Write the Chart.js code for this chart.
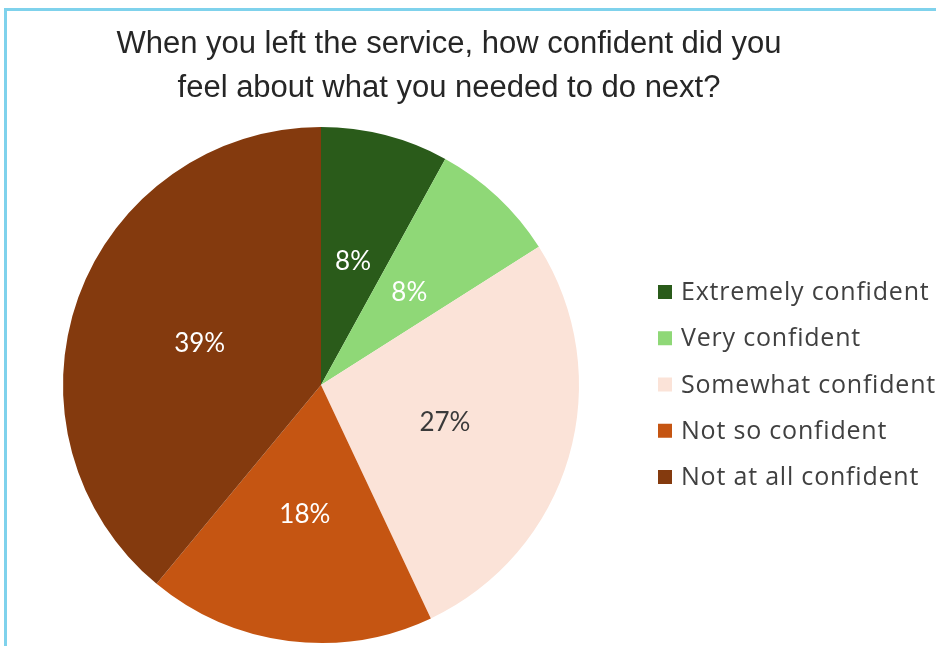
<!DOCTYPE html>
<html>
<head>
<meta charset="utf-8">
<title>Confidence after leaving the service</title>
<script src="https://cdn.jsdelivr.net/npm/chart.js@4"></script>
<style>
  html, body { margin: 0; padding: 0; background: #ffffff; }
  #wrap { position: relative; width: 936px; height: 646px; overflow: hidden; }
  #chart { position: absolute; left: 0; top: 0; }
  #frame {
    position: absolute; left: 4px; top: 8px; right: -10px; bottom: -10px;
    border-top: 3px solid #7fd2ec; border-left: 3px solid #7fd2ec;
    pointer-events: none;
  }
</style>
</head>
<body>
<div id="wrap">
  <canvas id="chart" width="936" height="646"></canvas>
  <div id="frame"></div>
</div>
<script>
// Survey answers, share of respondents (%)
const categories = [
  'Extremely confident',
  'Very confident',
  'Somewhat confident',
  'Not so confident',
  'Not at all confident'
];
const shares = [8, 8, 27, 18, 39];
const sliceColors = ['#2a5b1a', '#8fd877', '#fbe3d8', '#c55512', '#843a0e'];
const labelColors = ['#ffffff', '#ffffff', '#3a3a3a', '#ffffff', '#ffffff'];
const titleLines = [
  'When you left the service, how confident did you',
  'feel about what you needed to do next?'
];

// Two-line heading centred over the whole figure (pie + legend)
const heading = {
  id: 'heading',
  afterDraw(chart, args, opts) {
    const ctx = chart.ctx;
    ctx.save();
    ctx.font = opts.font;
    ctx.fillStyle = opts.color;
    ctx.textAlign = 'center';
    ctx.textBaseline = 'alphabetic';
    opts.lines.forEach((line, i) => {
      ctx.fillText(line, opts.centerX, opts.firstBaseline + i * opts.lineGap);
    });
    ctx.restore();
  }
};

// Percentage text in the middle of each slice
const sliceLabels = {
  id: 'sliceLabels',
  afterDatasetsDraw(chart) {
    const ctx = chart.ctx;
    const meta = chart.getDatasetMeta(0);
    const values = chart.data.datasets[0].data;
    ctx.save();
    ctx.font = '26px Lato, "Open Sans", sans-serif';
    ctx.textAlign = 'center';
    ctx.textBaseline = 'middle';
    meta.data.forEach((arc, i) => {
      const p = arc.tooltipPosition();
      ctx.fillStyle = labelColors[i];
      ctx.fillText(values[i] + '%', p.x, p.y + 2);
    });
    ctx.restore();
  }
};

// Legend list to the right of the pie
const sideLegend = {
  id: 'sideLegend',
  afterDraw(chart, args, opts) {
    const ctx = chart.ctx;
    ctx.save();
    ctx.font = opts.font;
    if ('letterSpacing' in ctx) ctx.letterSpacing = opts.letterSpacing;
    ctx.textAlign = 'left';
    ctx.textBaseline = 'middle';
    chart.data.labels.forEach((label, i) => {
      const cy = opts.top + i * opts.step;
      ctx.fillStyle = chart.data.datasets[0].backgroundColor[i];
      ctx.fillRect(opts.boxX, cy - opts.box / 2, opts.box, opts.box);
      ctx.fillStyle = opts.color;
      ctx.fillText(label, opts.textX, cy + 1);
    });
    ctx.restore();
  }
};

new Chart(document.getElementById('chart'), {
  type: 'pie',
  data: {
    labels: categories,
    datasets: [{
      data: shares,
      backgroundColor: sliceColors,
      borderWidth: 0
    }]
  },
  options: {
    responsive: false,
    animation: false,
    layout: { padding: { top: 127, bottom: 3, left: 63, right: 357 } },
    plugins: {
      legend: { display: false },
      tooltip: { enabled: false },
      title: { display: false },
      heading: {
        lines: titleLines,
        font: '31px "Liberation Sans", Arial, sans-serif',
        color: '#262626',
        centerX: 449,
        firstBaseline: 53,
        lineGap: 44
      },
      sideLegend: {
        font: '25px "Open Sans", Lato, sans-serif',
        letterSpacing: '0.8px',
        color: '#404040',
        boxX: 658,
        box: 14,
        textX: 681,
        top: 292,
        step: 46.25
      }
    }
  },
  plugins: [sliceLabels, sideLegend, heading]
});
</script>
</body>
</html>
